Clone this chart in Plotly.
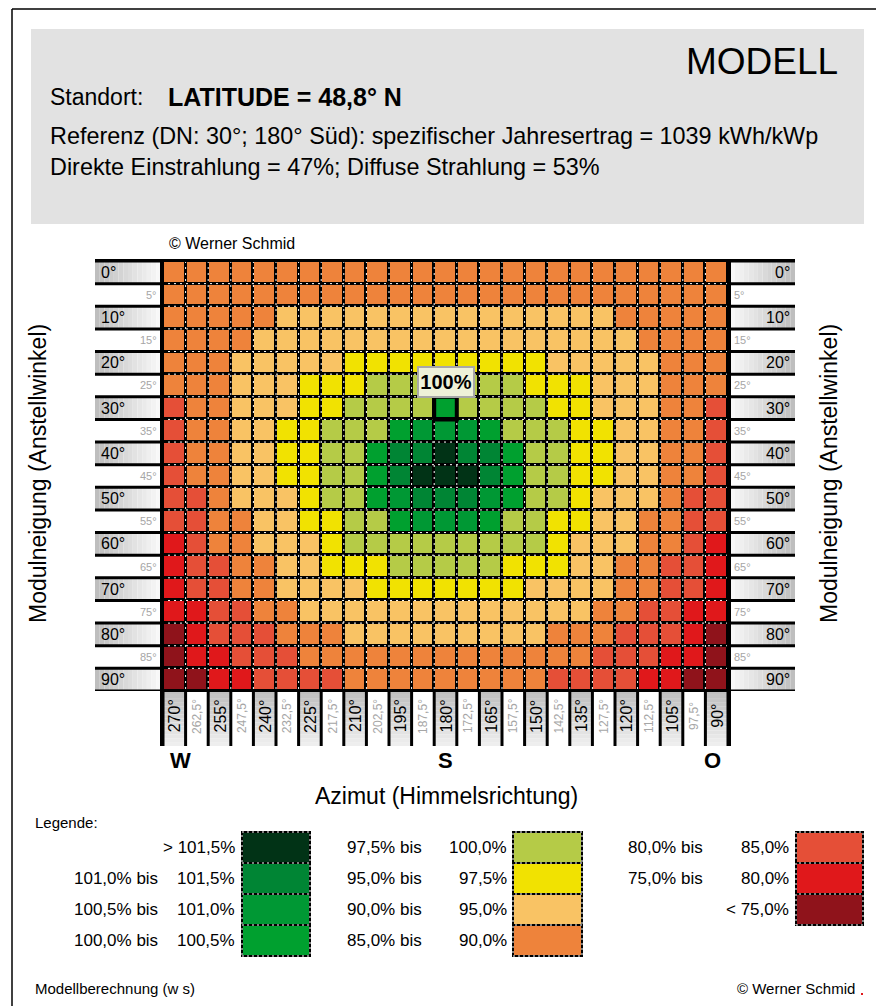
import plotly.graph_objects as go

# ---------------- data ----------------
tilts = [0, 5, 10, 15, 20, 25, 30, 35, 40, 45, 50, 55, 60, 65, 70, 75, 80, 85, 90]
tilt_labels = ["0°", "5°", "10°", "15°", "20°", "25°", "30°", "35°", "40°", "45°",
               "50°", "55°", "60°", "65°", "70°", "75°", "80°", "85°", "90°"]
azimuths = [270, 262.5, 255, 247.5, 240, 232.5, 225, 217.5, 210, 202.5, 195, 187.5, 180,
            172.5, 165, 157.5, 150, 142.5, 135, 127.5, 120, 112.5, 105, 97.5, 90]
az_labels = ["270°", "262,5°", "255°", "247,5°", "240°", "232,5°", "225°", "217,5°", "210°",
             "202,5°", "195°", "187,5°", "180°", "172,5°", "165°", "157,5°", "150°", "142,5°",
             "135°", "127,5°", "120°", "112,5°", "105°", "97,5°", "90°"]
directions = {270: "W", 180: "S", 90: "O"}

# yield class per cell (index into class_colors), one list per tilt
tilt_00 = [7, 7, 7, 7, 7, 7, 7, 7, 7, 7, 7, 7, 7, 7, 7, 7, 7, 7, 7, 7, 7, 7, 7, 7, 7]
tilt_05 = [7, 7, 7, 7, 7, 7, 7, 7, 7, 7, 7, 7, 7, 7, 7, 7, 7, 7, 7, 7, 7, 7, 7, 7, 7]
tilt_10 = [7, 7, 7, 7, 7, 6, 6, 6, 6, 6, 6, 6, 6, 6, 6, 6, 6, 6, 6, 6, 7, 7, 7, 7, 7]
tilt_15 = [7, 7, 7, 7, 6, 6, 6, 6, 6, 6, 6, 6, 6, 6, 6, 6, 6, 6, 6, 6, 6, 7, 7, 7, 7]
tilt_20 = [7, 7, 7, 6, 6, 6, 6, 6, 5, 5, 5, 5, 5, 5, 5, 5, 5, 6, 6, 6, 6, 6, 7, 7, 7]
tilt_25 = [7, 7, 7, 6, 6, 6, 5, 5, 5, 4, 4, 4, 4, 4, 4, 4, 5, 5, 5, 6, 6, 6, 7, 7, 7]
tilt_30 = [8, 7, 7, 6, 6, 6, 5, 5, 4, 4, 4, 4, 3, 4, 4, 4, 4, 5, 5, 6, 6, 6, 7, 7, 8]
tilt_35 = [8, 7, 7, 6, 6, 5, 5, 4, 4, 4, 3, 2, 2, 2, 3, 4, 4, 4, 5, 5, 6, 6, 7, 7, 8]
tilt_40 = [8, 7, 7, 6, 6, 5, 5, 4, 4, 3, 1, 1, 0, 1, 1, 3, 4, 4, 5, 5, 6, 6, 7, 7, 8]
tilt_45 = [8, 7, 7, 6, 6, 5, 5, 4, 4, 3, 1, 0, 0, 0, 1, 3, 4, 4, 5, 5, 6, 6, 7, 7, 8]
tilt_50 = [8, 8, 7, 6, 6, 6, 5, 4, 4, 3, 2, 1, 1, 1, 2, 3, 4, 4, 5, 6, 6, 6, 7, 8, 8]
tilt_55 = [8, 8, 7, 7, 6, 6, 5, 5, 4, 4, 3, 2, 2, 2, 3, 4, 4, 5, 5, 6, 6, 7, 7, 8, 8]
tilt_60 = [9, 8, 7, 7, 6, 6, 6, 5, 4, 4, 4, 4, 4, 4, 4, 4, 4, 5, 6, 6, 6, 7, 7, 8, 9]
tilt_65 = [9, 8, 8, 7, 7, 6, 6, 5, 5, 5, 4, 4, 4, 4, 4, 5, 5, 5, 6, 6, 7, 7, 8, 8, 9]
tilt_70 = [9, 8, 8, 7, 7, 6, 6, 6, 6, 5, 5, 5, 5, 5, 5, 5, 6, 6, 6, 6, 7, 7, 8, 8, 9]
tilt_75 = [9, 9, 8, 8, 7, 7, 6, 6, 6, 6, 6, 6, 6, 6, 6, 6, 6, 6, 6, 7, 7, 8, 8, 9, 9]
tilt_80 = [10, 9, 8, 8, 8, 7, 7, 7, 6, 6, 6, 6, 6, 6, 6, 6, 6, 7, 7, 7, 8, 8, 8, 9, 10]
tilt_85 = [10, 9, 9, 8, 8, 8, 7, 7, 7, 7, 7, 7, 7, 7, 7, 7, 7, 7, 7, 8, 8, 8, 9, 9, 10]
tilt_90 = [10, 10, 9, 9, 8, 8, 8, 8, 7, 7, 7, 7, 7, 7, 7, 7, 7, 8, 8, 8, 8, 9, 9, 10, 10]
yield_class = [tilt_00, tilt_05, tilt_10, tilt_15, tilt_20, tilt_25, tilt_30, tilt_35, tilt_40,
               tilt_45, tilt_50, tilt_55, tilt_60, tilt_65, tilt_70, tilt_75, tilt_80, tilt_85,
               tilt_90]

class_colors = ["#013316", "#008534", "#009834", "#00a02f", "#b5cb47", "#f1e201",
                "#f9c364", "#ee833b", "#e54f37", "#e0181b", "#8f131b"]
class_lo = [None, "101,0% bis", "100,5% bis", "100,0% bis", "97,5% bis", "95,0% bis",
            "90,0% bis", "85,0% bis", "80,0% bis", "75,0% bis", None]
class_hi = ["> 101,5%", "101,5%", "101,0%", "100,5%", "100,0%", "97,5%", "95,0%", "90,0%",
            "85,0%", "80,0%", "< 75,0%"]

ref_tilt, ref_az = 30, 180

# ---------------- helpers ----------------
W, H = 876, 1006
FONT = "Liberation Sans, Arial, sans-serif"


def px(x):
    return x / W


def py(y):
    return 1 - y / H


def hexmix(c1, c2, t):
    a = [int(c1[i:i + 2], 16) for i in (1, 3, 5)]
    b = [int(c2[i:i + 2], 16) for i in (1, 3, 5)]
    return "#%02x%02x%02x" % tuple(round(a[k] + (b[k] - a[k]) * t) for k in range(3))


shapes = []
annotations = []


def rect(x0, x1, y0, y1, fill, xref="paper", yref="paper", line=None, layer="above"):
    d = dict(type="rect", x0=x0, x1=x1, y0=y0, y1=y1, xref=xref, yref=yref,
             fillcolor=fill, layer=layer, line=dict(width=0) if line is None else line)
    shapes.append(d)


def seg(x0, x1, y0, y1, color="black", width=3, xref="paper", yref="paper", dash=None):
    ln = dict(color=color, width=width)
    if dash:
        ln["dash"] = dash
    shapes.append(dict(type="line", x0=x0, x1=x1, y0=y0, y1=y1, xref=xref, yref=yref, line=ln))


def text(x, y, s, size, xanchor="left", color="black", bold=False, xref="paper", yref="paper",
         angle=0, **kw):
    annotations.append(dict(x=x, y=y, xref=xref, yref=yref, text=f"<b>{s}</b>" if bold else s,
                            showarrow=False, xanchor=xanchor, yanchor="middle", textangle=angle,
                            font=dict(family=FONT, size=size, color=color), **kw))


def gradient(x0, x1, y0, y1, c_from, c_to, horizontal, xref, yref, n=14):
    for k in range(n):
        c = hexmix(c_from, c_to, (k + 0.5) / n)
        if horizontal:
            a = x0 + (x1 - x0) * k / n
            b = x0 + (x1 - x0) * (k + 1) / n
            rect(a, b, y0, y1, c, xref, yref)
        else:
            a = y0 + (y1 - y0) * k / n
            b = y0 + (y1 - y0) * (k + 1) / n
            rect(x0, x1, a, b, c, xref, yref)


# ---------------- figure ----------------
n = len(class_colors)
colorscale = []
for i, c in enumerate(class_colors):
    colorscale += [[i / n, c], [(i + 1) / n, c]]

fig = go.Figure(go.Heatmap(
    z=yield_class, x=azimuths, y=tilts, zmin=-0.5, zmax=n - 0.5, colorscale=colorscale,
    showscale=False, xgap=3, ygap=3,
    hovertemplate="Azimut %{x}°<br>Neigung %{y}°<extra></extra>"))

half_az = 3.75
half_t = 2.5
az_lo, az_hi = azimuths[-1] - half_az, azimuths[0] + half_az
t_lo, t_hi = tilts[0] - half_t, tilts[-1] + half_t

# outer page border & header box
seg(px(12), px(876), py(9), py(9), width=1.5)
seg(px(12), px(12), py(9), py(1006), width=1.5)
rect(px(31), px(864), py(224), py(29), "#e2e2e2", layer="below")

text(px(840), py(61), "MODELL", 37, xanchor="right")
text(px(48), py(97), "Standort:", 23)
text(px(166), py(97), "LATITUDE = 48,8° N", 25, bold=True)
text(px(48), py(136), "Referenz (DN: 30°; 180° Süd): spezifischer Jahresertrag = 1039 kWh/kWp", 23.4)
text(px(48), py(167), "Direkte Einstrahlung = 47%; Diffuse Strahlung = 53%", 23.4)
text(px(167), py(243), "© Werner Schmid", 16)

# white dotted texture on grid lines
for i in range(len(azimuths) - 1):
    xb = (azimuths[i] + azimuths[i + 1]) / 2
    seg(xb, xb, t_lo, t_hi, color="white", width=1, xref="x", yref="y", dash="2px,4px")
for j in range(len(tilts) - 1):
    yb = (tilts[j] + tilts[j + 1]) / 2
    seg(az_lo, az_hi, yb, yb, color="white", width=1, xref="x", yref="y", dash="2px,4px")

# tilt label columns (left & right)
for j, t in enumerate(tilts):
    major = t % 10 == 0
    if major:
        gradient(px(95), px(161), t - half_t, t + half_t, "#bcbcbc", "#fafafa", True, "paper", "y")
        gradient(px(730), px(795), t - half_t, t + half_t, "#fafafa", "#bcbcbc", True, "paper", "y")
        text(px(99), t, tilt_labels[j], 16, yref="y")
        text(px(792), t, tilt_labels[j], 16, xanchor="right", yref="y")
    else:
        text(px(159), t, tilt_labels[j], 11, xanchor="right", color="#a6a6a6", yref="y")
        text(px(732), t, tilt_labels[j], 11, color="#a6a6a6", yref="y")
for j in range(len(tilts) + 1):
    yb = t_lo + 5 * j
    seg(px(95), px(163), yb, yb, width=3, yref="y")
    seg(px(728), px(795), yb, yb, width=3, yref="y")

# azimuth label row (bottom)
dir_shift = {270: -2.2, 180: 0, 90: 1.3}
for i, a in enumerate(azimuths):
    major = i % 2 == 0
    if major:
        gradient(a + half_az, a - half_az, py(691), py(746), "#bdbdbd", "#f0f0f0", False, "x", "paper")
        text(a, py(716), az_labels[i], 16, xanchor="center", xref="x", angle=-90)
    else:
        text(a, py(716), az_labels[i], 12, xanchor="center", xref="x", angle=-90, color="#a6a6a6")
    if a in directions:
        text(a + dir_shift[a], py(760), directions[a], 22, xanchor="center", xref="x", bold=True)
for i in range(len(azimuths) + 1):
    xb = az_hi - 7.5 * i
    seg(xb, xb, py(690), py(746), width=3, xref="x")

# thick frame of the grid
rect(px(160), px(164), py(746), py(259), "black")
rect(px(727), px(731), py(746), py(259), "black")
rect(px(95), px(795), py(262), py(259), "black")
rect(px(160), px(731), py(692), py(689), "black")

# reference cell
shapes.append(dict(type="rect", xref="x", yref="y", x0=ref_az + half_az, x1=ref_az - half_az,
                   y0=ref_tilt - half_t, y1=ref_tilt + half_t, line=dict(color="black", width=4)))
annotations.append(dict(x=ref_az, y=py(381.5), xref="x", yref="paper", text="<b>100%</b>",
                        showarrow=False, xanchor="center", yanchor="middle",
                        font=dict(family=FONT, size=20, color="black"),
                        bgcolor="#eef1d8", bordercolor="#a8a8a8", borderwidth=2,
                        width=54, height=28, borderpad=0))

# axis titles
text(px(38), py(474), "Modulneigung (Anstellwinkel)", 23, xanchor="center", angle=-90)
text(px(829), py(474), "Modulneigung (Anstellwinkel)", 23, xanchor="center", angle=-90)
text(px(446), py(796), "Azimut (Himmelsrichtung)", 23, xanchor="center")

# legend
text(px(33), py(822), "Legende:", 15)
legend_cols = [(72, 237, 242, 310), (345, 509, 513, 582), (626, 791, 796, 863)]
for k in range(n):
    col = 0 if k < 4 else (1 if k < 8 else 2)
    row = k if k < 4 else (k - 4 if k < 8 else k - 8)
    lo_x, hi_x, b0, b1 = legend_cols[col]
    top = 832 + 31 * row
    rect(px(b0), px(b1), py(top + 31), py(top), class_colors[k],
         line=dict(color="black", width=2))
    shapes.append(dict(type="rect", xref="paper", yref="paper", x0=px(b0), x1=px(b1),
                       y0=py(top + 31), y1=py(top),
                       line=dict(color="white", width=1, dash="2px,3px")))
    cy = py(top + 15.5)
    if class_lo[k]:
        text(px(lo_x), cy, class_lo[k], 17)
    text(px(hi_x), cy, class_hi[k], 17, xanchor="right")

# footer
text(px(33), py(988), "Modellberechnung (w s)", 15)
text(px(857), py(988), "© Werner Schmid", 15, xanchor="right")
rect(px(861), px(863), py(995), py(993), "#e0181b")

fig.update_layout(
    width=W, height=H, margin=dict(l=0, r=0, t=0, b=0),
    paper_bgcolor="white", plot_bgcolor="black",
    xaxis=dict(domain=[px(163), px(728)], range=[az_hi, az_lo], visible=False),
    yaxis=dict(domain=[py(691), py(261)], range=[t_hi, t_lo], visible=False),
    shapes=shapes, annotations=annotations, showlegend=False,
)

fig.write_html("out.html", config={"displayModeBar": False},
               post_script="document.body.style.margin='0';document.body.style.overflow='hidden';")
